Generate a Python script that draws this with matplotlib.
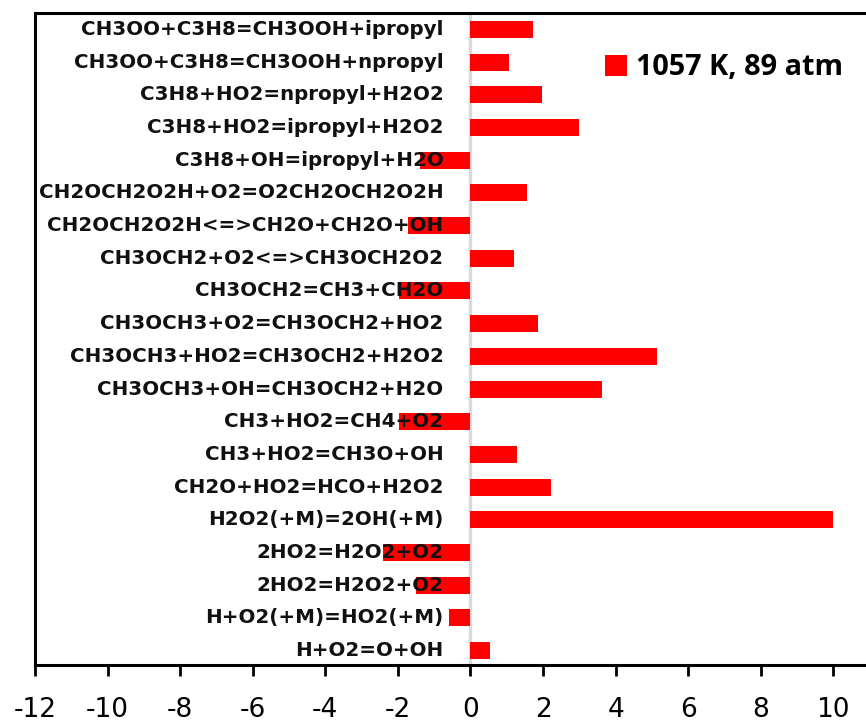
import numpy as np
import matplotlib
matplotlib.use('Agg')
import matplotlib.pyplot as plt

#######################################################
# Data (top row first)
#######################################################

reactions = [
    'CH3OO+C3H8=CH3OOH+ipropyl',
    'CH3OO+C3H8=CH3OOH+npropyl',
    'C3H8+HO2=npropyl+H2O2',
    'C3H8+HO2=ipropyl+H2O2',
    'C3H8+OH=ipropyl+H2O',
    'CH2OCH2O2H+O2=O2CH2OCH2O2H',
    'CH2OCH2O2H<=>CH2O+CH2O+OH',
    'CH3OCH2+O2<=>CH3OCH2O2',
    'CH3OCH2=CH3+CH2O',
    'CH3OCH3+O2=CH3OCH2+HO2',
    'CH3OCH3+HO2=CH3OCH2+H2O2',
    'CH3OCH3+OH=CH3OCH2+H2O',
    'CH3+HO2=CH4+O2',
    'CH3+HO2=CH3O+OH',
    'CH2O+HO2=HCO+H2O2',
    'H2O2(+M)=2OH(+M)',
    '2HO2=H2O2+O2',
    '2HO2=H2O2+O2',
    'H+O2(+M)=HO2(+M)',
    'H+O2=O+OH',
]

sensitivity = [1.72, 1.07, 1.97, 2.98, -1.40, 1.56, -1.71, 1.21, -1.96, 1.86,
               5.14, 3.63, -1.96, 1.27, 2.22, 10.0, -2.41, -1.50, -0.60, 0.55]

series_label = '1057 K, 89 atm'
xticks = np.arange(-12, 11, 2)

#######################################################
# Figure
#######################################################

plt.rcParams['axes.unicode_minus'] = False

fig = plt.figure(figsize=(8.66, 7.23), dpi=100)
ax = fig.add_axes([35/866, 1 - 665/723, 1 - 35/866, 652/723])

ypos = np.arange(len(reactions))[::-1]
ax.barh(ypos, sensitivity, height=0.52, color='#ff0000', zorder=2,
        label=series_label)

# zero line (light gray, like the category axis in the original)
ax.axvline(0, color='#d9d9d9', lw=2.5, zorder=1)

# category labels sit just left of zero, on top of the bars
for y, name in zip(ypos, reactions):
    ax.annotate(name, xy=(0, y), xytext=(-19.5, 0), textcoords='offset points',
                ha='right', va='center', fontsize=14.3, fontweight='bold',
                family='DejaVu Sans', color='#111111', zorder=3)

ax.set_xlim(-12, 10.9)
ax.set_ylim(-0.44, 19.5)
ax.set_yticks([])
ax.set_xticks(xticks)
ax.set_xticklabels([str(t) for t in xticks])
ax.tick_params(axis='x', length=8, width=2, direction='out', pad=15,
               labelsize=19, colors='black')

for side in ['left', 'top', 'bottom']:
    ax.spines[side].set_linewidth(2.2)
    ax.spines[side].set_color('black')
ax.spines['right'].set_visible(False)

ax.legend(loc='upper left', bbox_to_anchor=(0.655, 0.978), frameon=False,
          handlelength=0.75, handleheight=0.75, handletextpad=0.3,
          prop={'family': 'Open Sans', 'weight': 'bold', 'size': 20.8})

fig.savefig('out.png', dpi=100)
